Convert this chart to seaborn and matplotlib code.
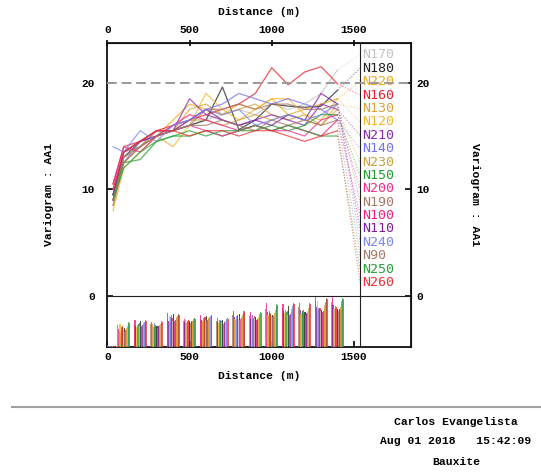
import numpy as np
import pandas as pd
import matplotlib
matplotlib.use("Agg")
import matplotlib.pyplot as plt
import seaborn as sns

# ---------------- data ----------------
lags = [35, 100, 200, 300, 400, 500, 600, 700, 800, 900, 1000, 1100, 1200, 1300, 1400]

# legend order (top to bottom)
directions = ["N170", "N180", "N220", "N160", "N130", "N120", "N210", "N140", "N230",
              "N150", "N200", "N190", "N100", "N110", "N240", "N90", "N250", "N260"]
# bar order inside each lag group (by azimuth)
azimuth_order = ["N90", "N100", "N110", "N120", "N130", "N140", "N150", "N160", "N170",
                 "N180", "N190", "N200", "N210", "N220", "N230", "N240", "N250", "N260"]

colors = ["#c4c4c4", "#222222", "#f2a81e", "#e8202c", "#d6a43a", "#f5b52a",
          "#8a2aa8", "#7272f0", "#c9a23e", "#1f9e2a", "#f0308a", "#a87868",
          "#f0207a", "#7c1f9c", "#7a88f0", "#a87868", "#28a03a", "#e83434"]

gam_N170 = [9.5, 12.5, 14.0, 15.0, 15.5, 16.0, 16.5, 17.0, 17.5, 17.0, 18.0, 17.5, 18.0, 19.0, 21.2]
gam_N180 = [9.5, 13.0, 14.5, 15.5, 15.5, 16.0, 16.5, 19.6, 15.6, 16.5, 18.0, 17.8, 17.7, 17.8, 19.3]
gam_N220 = [9.0, 13.5, 14.5, 15.0, 16.5, 18.0, 17.5, 17.0, 18.0, 17.5, 18.5, 17.0, 17.5, 18.0, 18.5]
gam_N160 = [10.5, 14.0, 14.5, 15.5, 16.0, 16.5, 17.0, 17.5, 18.0, 19.0, 21.4, 19.8, 21.0, 21.5, 19.9]
gam_N130 = [8.5, 12.5, 14.0, 15.0, 15.5, 17.5, 18.0, 17.0, 17.5, 18.0, 17.0, 16.5, 17.0, 16.0, 18.0]
gam_N120 = [8.0, 12.0, 13.5, 15.0, 14.0, 16.0, 19.0, 17.5, 16.5, 17.5, 18.5, 18.5, 17.0, 16.5, 18.5]
gam_N210 = [9.0, 13.0, 14.0, 15.5, 15.5, 18.5, 17.0, 16.5, 16.0, 16.5, 17.0, 16.5, 16.0, 18.0, 17.5]
gam_N140 = [9.5, 12.5, 14.5, 15.0, 16.0, 16.5, 17.5, 18.0, 19.0, 18.5, 18.0, 18.5, 18.0, 17.5, 16.5]
gam_N230 = [9.0, 13.0, 14.0, 15.5, 15.5, 16.5, 16.5, 16.0, 16.5, 17.0, 16.5, 17.0, 16.5, 16.0, 17.5]
gam_N150 = [9.5, 12.5, 12.8, 14.5, 15.0, 15.0, 15.5, 15.0, 15.5, 15.5, 16.0, 15.5, 16.0, 17.0, 17.0]
gam_N200 = [10.0, 13.5, 14.5, 15.5, 15.5, 16.0, 15.5, 15.0, 15.5, 16.0, 15.5, 15.5, 15.0, 16.5, 17.0]
gam_N190 = [9.0, 13.5, 14.0, 15.0, 15.5, 16.0, 17.5, 17.5, 18.0, 17.5, 18.0, 18.0, 17.5, 17.5, 18.0]
gam_N100 = [10.5, 14.0, 13.5, 15.0, 16.0, 17.0, 16.5, 16.0, 15.5, 16.0, 15.5, 16.0, 15.5, 15.0, 16.5]
gam_N110 = [9.5, 13.5, 14.5, 15.0, 15.5, 16.5, 17.5, 16.5, 16.0, 16.5, 16.0, 17.0, 16.5, 19.0, 18.0]
gam_N240 = [14.0, 13.5, 15.5, 14.5, 16.0, 16.5, 17.5, 17.0, 17.5, 16.0, 16.5, 17.0, 16.5, 17.0, 18.0]
gam_N90 = [8.5, 12.5, 14.0, 15.0, 15.5, 16.0, 16.0, 16.5, 16.0, 15.5, 16.5, 16.0, 16.5, 16.0, 16.5]
gam_N250 = [9.0, 12.0, 13.5, 14.5, 15.0, 15.5, 15.0, 15.5, 15.5, 16.0, 15.5, 16.0, 15.5, 15.0, 15.0]
gam_N260 = [10.0, 13.5, 14.5, 15.5, 15.5, 15.0, 15.5, 15.5, 15.0, 15.5, 15.5, 15.0, 14.5, 15.0, 15.5]

pairs_N90 = [2, 42, 45, 44, 55, 50, 55, 50, 62, 60, 75, 76, 78, 85, 88]
pairs_N100 = [3, 35, 53, 48, 66, 54, 62, 56, 71, 69, 86, 84, 87, 98, 98]
pairs_N110 = [2, 30, 40, 42, 50, 48, 52, 48, 58, 55, 68, 70, 72, 78, 82]
pairs_N120 = [1, 45, 38, 44, 60, 52, 50, 46, 55, 60, 62, 66, 65, 90, 75]
pairs_N130 = [2, 28, 36, 38, 48, 46, 50, 45, 52, 54, 60, 64, 66, 72, 74]
pairs_N140 = [1, 32, 42, 46, 58, 50, 56, 52, 60, 62, 70, 72, 70, 76, 80]
pairs_N150 = [2, 38, 44, 40, 62, 48, 54, 50, 58, 56, 66, 68, 70, 74, 76]
pairs_N160 = [2, 40, 46, 42, 56, 52, 58, 50, 62, 60, 64, 70, 72, 76, 78]
pairs_N170 = [1, 34, 40, 38, 50, 46, 52, 48, 54, 56, 60, 62, 64, 70, 72]
pairs_N180 = [2, 36, 50, 40, 64, 50, 60, 52, 64, 58, 62, 80, 68, 72, 74]
pairs_N190 = [2, 30, 38, 36, 48, 46, 50, 44, 52, 50, 58, 60, 62, 66, 70]
pairs_N200 = [1, 32, 40, 38, 50, 48, 52, 46, 54, 52, 60, 62, 64, 68, 72]
pairs_N210 = [2, 34, 42, 40, 52, 50, 54, 48, 56, 54, 62, 64, 66, 70, 74]
pairs_N220 = [1, 36, 44, 42, 54, 50, 56, 50, 58, 58, 66, 68, 70, 74, 78]
pairs_N230 = [2, 40, 46, 44, 58, 52, 58, 52, 62, 62, 72, 74, 76, 82, 84]
pairs_N240 = [2, 44, 48, 46, 60, 54, 60, 54, 66, 64, 78, 80, 82, 88, 90]
pairs_N250 = [3, 48, 52, 50, 64, 56, 62, 56, 70, 68, 84, 86, 86, 96, 96]
pairs_N260 = [2, 46, 50, 48, 62, 55, 60, 55, 68, 66, 82, 84, 85, 94, 95]

sill = 20
xticks = [0, 500, 1000, 1500]
yticks = [0, 10, 20]

gam = {d: globals()["gam_" + d] for d in directions}
pairs = {d: globals()["pairs_" + d] for d in directions}
palette = dict(zip(directions, colors))

rows = []
for d in directions:
    for x, g in zip(lags, gam[d]):
        rows.append({"Distance": x, "Variogram": g, "Direction": d})
df = pd.DataFrame(rows)

# ---------------- figure ----------------
mono = "Liberation Mono"
fig = plt.figure(figsize=(5.41, 4.72), dpi=100)
ax = fig.add_axes([107.3 / 541, 1 - 346.7 / 472, (410.7 - 107.3) / 541, (346.7 - 42.7) / 472])

XMAX, YMIN, YMAX = 1845, -4.75, 23.75
DIV = 1537

sns.lineplot(data=df, x="Distance", y="Variogram", hue="Direction", palette=palette,
             hue_order=directions, legend=False, linewidth=0.9, alpha=0.75,
             estimator=None, sort=False, ax=ax)

# legend labels and dotted connectors
label_y = [22.6 - 1.255 * i for i in range(len(directions))]
for d, ly in zip(directions, label_y):
    ax.plot([lags[-1], DIV], [gam[d][-1], ly], ls=(0, (1, 1.5)), lw=0.8,
            color=palette[d], alpha=0.55)
    ax.text(1550, ly, d, color=palette[d], fontsize=9.6, family="DejaVu Sans Mono",
            va="center", ha="left")

ax.axhline(sill, color="#9a9a9a", lw=1.4, ls=(0, (5, 2.5)), zorder=3)
ax.axhline(0, color="#222222", lw=0.8)
ax.axvline(DIV, color="#222222", lw=0.8)

ax.set_xlim(0, XMAX)
ax.set_ylim(YMIN, YMAX)
for s in ax.spines.values():
    s.set_linewidth(1.3)
    s.set_color("#111111")

ax.set_xticks(xticks)
ax.set_yticks(yticks)
ax.tick_params(axis="x", direction="in", length=4, width=1.2, pad=4)
ax.tick_params(axis="y", direction="in", length=4, width=1.2, pad=9)
for lab in ax.get_xticklabels() + ax.get_yticklabels():
    lab.set_fontfamily(mono)
    lab.set_fontweight("bold")
    lab.set_fontsize(8)
ax.set_xlabel("Distance (m)", fontfamily=mono, fontweight="bold", fontsize=8.2, labelpad=6)
ax.set_ylabel("Variogram : AA1", fontfamily=mono, fontweight="bold", fontsize=8.2, labelpad=20)

top = ax.secondary_xaxis("top")
top.set_xticks(xticks)
top.tick_params(direction="inout", length=5, width=1.2, pad=3)
for lab in top.get_xticklabels():
    lab.set_fontfamily(mono); lab.set_fontweight("bold"); lab.set_fontsize(8)
top.set_xlabel("Distance (m)", fontfamily=mono, fontweight="bold", fontsize=8.2, labelpad=7)

right = ax.secondary_yaxis("right")
right.set_yticks(yticks)
right.tick_params(direction="in", length=4, width=1.2, pad=4)
for lab in right.get_yticklabels():
    lab.set_fontfamily(mono); lab.set_fontweight("bold"); lab.set_fontsize(8)
right.set_ylabel("Variogram : AA1", fontfamily=mono, fontweight="bold", fontsize=8.2,
                 rotation=270, labelpad=36)

# number-of-pairs histogram strip
hx = ax.inset_axes([0, YMIN, XMAX, -YMIN], transform=ax.transData)
hx.set_xlim(0, XMAX)
hx.set_ylim(0, 100)
hx.axis("off")
n = len(azimuth_order)
step = 4.2
for i, d in enumerate(azimuth_order):
    xs = [l + (i - (n - 1) / 2) * step for l in lags]
    hx.bar(xs, pairs[d], width=7, color=palette[d], alpha=0.8, linewidth=0)

# footer
fig.add_artist(plt.Line2D([12 / 541, 1.0], [1 - 406.5 / 472] * 2, color="#a0a0a0", lw=1.5))
fig.text(456 / 541, 1 - 422 / 472, "Carlos Evangelista", ha="center", va="center",
         family=mono, fontweight="bold", fontsize=8.2)
fig.text(456 / 541, 1 - 441 / 472, "Aug 01 2018   15:42:09", ha="center", va="center",
         family=mono, fontweight="bold", fontsize=8.2)
fig.text(456 / 541, 1 - 462 / 472, "Bauxite", ha="center", va="center",
         family=mono, fontweight="bold", fontsize=8.2)

fig.savefig("out.png", dpi=100)
